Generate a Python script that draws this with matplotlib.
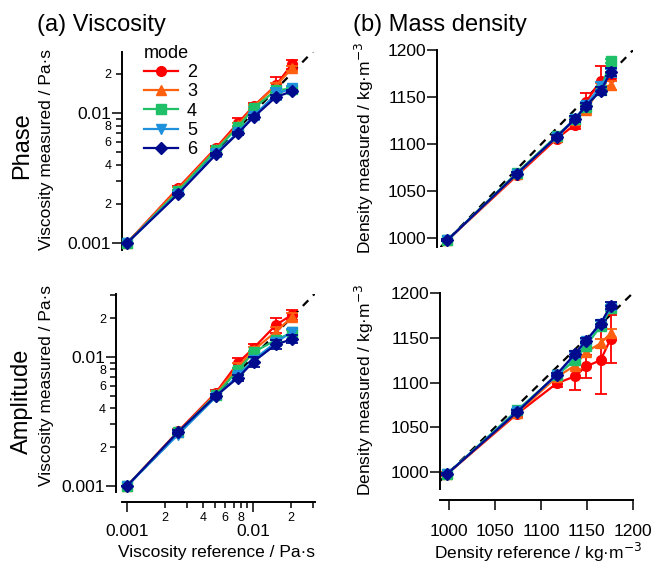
import numpy as np
import matplotlib.pyplot as plt
from matplotlib.ticker import FixedLocator, FixedFormatter, NullFormatter

plt.switch_backend('agg')
plt.rcParams['font.family'] = ['Liberation Sans', 'DejaVu Sans']

W, H = 654, 565

##---------- data ----------##
modes = ['2', '3', '4', '5', '6']
colors = ['#FF0000', '#FF6010', '#20C068', '#1E90DC', '#000A8C']
markers = ['o', '^', 's', 'v', 'D']
msizes = [7, 7.5, 6.5, 7.5, 6]

visc_ref = [0.001, 0.00254, 0.00508, 0.0076, 0.0101, 0.0152, 0.0204]
dens_ref = [998, 1074, 1117, 1137, 1149, 1165, 1176]

# phase - viscosity
visc_ph = [
    [0.001, 0.00265, 0.0054, 0.0084, 0.0113, 0.0164, 0.0238],
    [0.001, 0.0026, 0.0053, 0.0081, 0.0112, 0.0162, 0.0222],
    [0.001, 0.0025, 0.0052, 0.0078, 0.0109, 0.0150, 0.0154],
    [0.001, 0.0024, 0.0049, 0.0071, 0.0095, 0.0140, 0.0155],
    [0.001, 0.00238, 0.0048, 0.0070, 0.0093, 0.0133, 0.0147]]
visc_ph_err = [
    [0, 0.0001, 0.0002, 0.0007, 0.0007, 0.0025, 0.0018],
    [0, 0.0001, 0.0001, 0.0003, 0.0004, 0.0008, 0.0010],
    [0, 0.00005, 0.0001, 0.0002, 0.0003, 0.0005, 0.0005],
    [0, 0.00005, 0.0003, 0.0003, 0.0006, 0.0015, 0.0006],
    [0, 0.00005, 0.0001, 0.0002, 0.0003, 0.0004, 0.0004]]

# amplitude - viscosity
visc_am = [
    [0.001, 0.00265, 0.0053, 0.0090, 0.0117, 0.0177, 0.0212],
    [0.001, 0.0026, 0.0052, 0.0084, 0.0113, 0.0157, 0.0204],
    [0.001, 0.0026, 0.0051, 0.0079, 0.0109, 0.0135, 0.0155],
    [0.001, 0.0025, 0.0049, 0.0072, 0.0095, 0.0130, 0.0156],
    [0.001, 0.00262, 0.0050, 0.0069, 0.0092, 0.0125, 0.0137]]
visc_am_err = [
    [0, 0.0001, 0.0002, 0.0008, 0.0008, 0.0024, 0.0020],
    [0, 0.0001, 0.0002, 0.0005, 0.0006, 0.0012, 0.0015],
    [0, 0.0001, 0.0001, 0.0003, 0.0003, 0.0006, 0.0006],
    [0, 0.0001, 0.0002, 0.0003, 0.0005, 0.0008, 0.0008],
    [0, 0.0001, 0.0002, 0.0004, 0.0008, 0.0009, 0.0010]]

# phase - density
dens_ph = [
    [998, 1067, 1106, 1121, 1145, 1168, 1172],
    [998, 1068, 1108, 1126, 1137, 1160, 1163],
    [998, 1070, 1109, 1127, 1140, 1158, 1189],
    [998, 1069, 1108, 1127, 1142, 1162, 1176],
    [998, 1069, 1108, 1127, 1141, 1157, 1177]]
dens_ph_err = [
    [1, 3, 3, 5, 10, 15, 5],
    [1, 2, 2, 4, 4, 5, 5],
    [1, 1, 2, 2, 3, 3, 2],
    [1, 2, 2, 3, 3, 4, 4],
    [1, 2, 2, 3, 3, 4, 4]]

# amplitude - density
dens_am = [
    [998, 1065, 1099, 1107, 1118, 1125, 1149],
    [998, 1066, 1106, 1119, 1134, 1144, 1155],
    [998, 1069, 1108, 1125, 1141, 1163, 1183],
    [998, 1068, 1108, 1131, 1146, 1166, 1184],
    [998, 1067, 1109, 1132, 1147, 1166, 1186]]
dens_am_err = [
    [2, 4, 4, 15, 13, 38, 27],
    [1, 2, 2, 4, 4, 5, 5],
    [1, 2, 2, 3, 3, 3, 3],
    [1, 2, 2, 3, 3, 3, 3],
    [1, 2, 2, 3, 3, 4, 4]]

visc_major = [0.001, 0.01]
visc_minor = [0.002, 0.003, 0.004, 0.005, 0.006, 0.007, 0.008, 0.009, 0.02, 0.03]
visc_minor_lbl = ['2', '', '4', '', '6', '', '8', '', '2', '']
dens_ticks = [1000, 1050, 1100, 1150, 1200]


def px_axes(fig, l, r, t, b):
    return fig.add_axes([l / W, 1 - b / H, (r - l) / W, (b - t) / H])


def style_axes(ax, logaxes, show_x, x_off=0, y_off=0):
    for s in ['top', 'right']:
        ax.spines[s].set_visible(False)
    ax.spines['left'].set_linewidth(1.4)
    ax.spines['bottom'].set_linewidth(1.4)
    ax.spines['left'].set_position(('outward', y_off))
    ax.spines['bottom'].set_position(('outward', x_off))
    ax.tick_params(which='both', direction='out', width=1.1)
    ax.tick_params(which='major', length=7, labelsize=12.5)
    ax.tick_params(which='minor', length=4.5, labelsize=9)
    ax.tick_params(axis='y', which='major', pad=1)
    ax.tick_params(axis='y', which='minor', pad=3)
    ax.tick_params(axis='x', which='major', pad=9)
    ax.tick_params(axis='x', which='minor', pad=3)
    if logaxes:
        ax.set_xscale('log')
        ax.set_yscale('log')
        axes_list = [ax.xaxis, ax.yaxis]
        for a in axes_list:
            a.set_major_locator(FixedLocator(visc_major))
            a.set_major_formatter(FixedFormatter(['0.001', '0.01']))
            a.set_minor_locator(FixedLocator(visc_minor))
            a.set_minor_formatter(FixedFormatter(visc_minor_lbl))
    else:
        ax.set_xticks(dens_ticks)
        ax.set_yticks(dens_ticks)
        ax.tick_params(axis='x', which='major', pad=10)
    if not show_x:
        ax.spines['bottom'].set_visible(False)
        ax.tick_params(axis='x', which='both', bottom=False, labelbottom=False)


def plot_series(ax, xref, ydata, yerr, lim):
    ax.plot(lim, lim, color='black', ls=(0, (3.5, 3)), lw=1.6, zorder=1)
    handles = []
    for i in range(len(modes)):
        cont = ax.errorbar(xref, ydata[i], yerr=yerr[i], color=colors[i],
                           marker=markers[i], ms=msizes[i], lw=1.6,
                           elinewidth=1.3, capsize=4, capthick=1.3,
                           zorder=2 + i, clip_on=False)
        handles.append(cont[0])
    return handles


fig = plt.figure(figsize=(W / 100., H / 100.), dpi=100)

# (a) viscosity, phase
ax1 = px_axes(fig, 122, 315, 52, 250)
style_axes(ax1, True, False)
hnd = plot_series(ax1, visc_ref, visc_ph, visc_ph_err, [0.0009, 0.031])
ax1.set_xlim(0.000913, 0.031)
ax1.set_ylim(0.000884, 0.0295)

leg = fig.legend(hnd, modes, title='mode', loc='upper left',
                 bbox_to_anchor=(131 / W, 1 - 32 / H), frameon=False,
                 fontsize=13, title_fontsize=13, handlelength=1.9,
                 handletextpad=0.5, labelspacing=0.13, borderpad=0.2,
                 alignment='left')

# (a) viscosity, amplitude
ax2 = px_axes(fig, 122, 315, 294, 492)
style_axes(ax2, True, True, x_off=7, y_off=4)
plot_series(ax2, visc_ref, visc_am, visc_am_err, [0.0009, 0.031])
ax2.set_xlim(0.000913, 0.031)
ax2.set_ylim(0.000899, 0.0307)

# (b) density, phase
ax3 = px_axes(fig, 440, 633, 50, 247)
style_axes(ax3, False, False, y_off=2)
plot_series(ax3, dens_ref, dens_ph, dens_ph_err, [989, 1201])
ax3.set_xlim(990, 1200.3)
ax3.set_ylim(990.8, 1200.5)

# (b) density, amplitude
ax4 = px_axes(fig, 440, 633, 292.7, 489)
style_axes(ax4, False, True, x_off=8)
plot_series(ax4, dens_ref, dens_am, dens_am_err, [989, 1201])
ax4.set_xlim(990, 1200.3)
ax4.set_ylim(981, 1200.5)

#----------- texts
def ftext(x, y, s, **kw):
    fig.text(x / W, 1 - y / H, s, **kw)

ftext(37, 25, '(a) Viscosity', fontsize=17, ha='left', va='center')
ftext(353, 25, '(b) Mass density', fontsize=17, ha='left', va='center')
ftext(22, 146, 'Phase', fontsize=17, rotation=90, ha='center', va='center')
ftext(22, 401, 'Amplitude', fontsize=17, rotation=90, ha='center', va='center')
ftext(47, 150, 'Viscosity measured / Pa\u00b7s', fontsize=12.5, rotation=90,
      ha='center', va='center')
ftext(47, 385, 'Viscosity measured / Pa\u00b7s', fontsize=12.5, rotation=90,
      ha='center', va='center')
ftext(364, 148, 'Density measured / kg\u00b7m$^{-3}$', fontsize=12.5,
      rotation=90, ha='center', va='center')
ftext(364, 390, 'Density measured / kg\u00b7m$^{-3}$', fontsize=12.5,
      rotation=90, ha='center', va='center')
ftext(216, 552, 'Viscosity reference / Pa\u00b7s', fontsize=12.5,
      ha='center', va='center')
ftext(538, 552, 'Density reference / kg\u00b7m$^{-3}$', fontsize=12.5,
      ha='center', va='center')

plt.savefig('out.png', dpi=100)
